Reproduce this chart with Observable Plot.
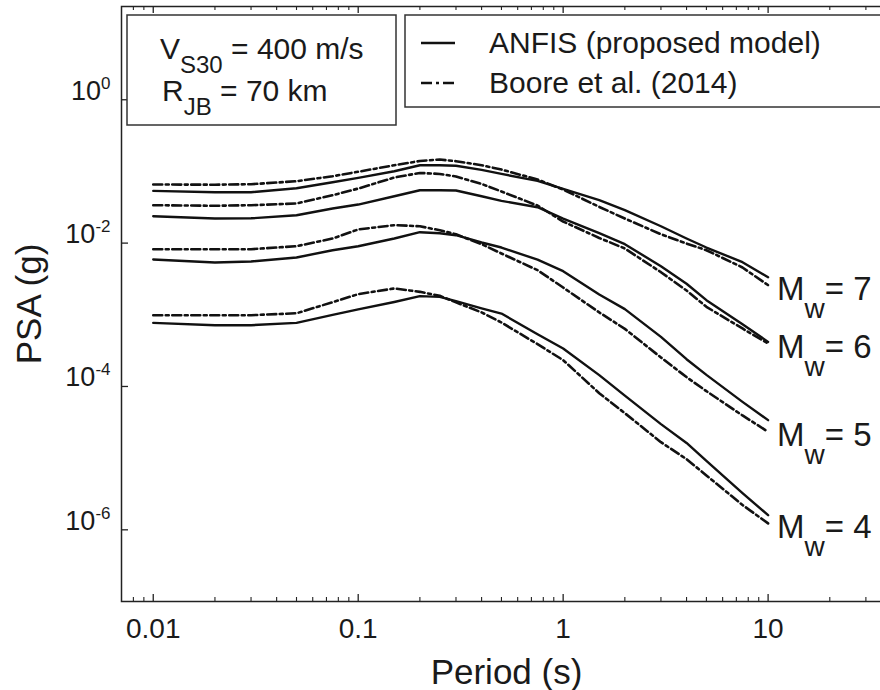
<!DOCTYPE html>
<html><head><meta charset="utf-8">
<script src="https://cdn.jsdelivr.net/npm/d3@7"></script>
<script src="https://cdn.jsdelivr.net/npm/@observablehq/plot@0.6"></script>
<style>
body{margin:0;background:#fff;overflow:hidden}
#wrap{width:880px;height:690px}
</style></head><body><div id="wrap"></div>
<script>
// ---- data ----
const periods = [0.01,0.02,0.03,0.05,0.075,0.1,0.15,0.2,0.25,0.3,0.4,0.5,0.75,1,1.5,2,3,4,5,7.5,10];
const magnitudes = [4,5,6,7];
const anfisM7 = [0.0535,0.0513,0.0513,0.0583,0.0707,0.0814,0.1006,0.122,0.122,0.120,0.105,0.0923,0.0737,0.0570,0.0397,0.0288,0.0172,0.0116,0.00868,0.00542,0.00334];
const booreM7 = [0.0657,0.0653,0.0663,0.0730,0.0857,0.0990,0.122,0.140,0.1466,0.1388,0.122,0.1063,0.0771,0.0559,0.0320,0.0220,0.0133,0.00987,0.00796,0.00457,0.00259];
const anfisM6 = [0.0237,0.0220,0.0222,0.0245,0.0304,0.0345,0.0451,0.0547,0.0547,0.0542,0.0451,0.0388,0.0317,0.0220,0.01374,0.00965,0.00476,0.00271,0.00160,0.000740,0.000419];
const booreM6 = [0.0338,0.0332,0.0338,0.0357,0.0466,0.0577,0.0822,0.0953,0.0923,0.0849,0.0669,0.0525,0.0334,0.0200,0.0118,0.00841,0.00393,0.00218,0.00129,0.000644,0.000398];
const anfisM5 = [0.00591,0.00536,0.00554,0.00630,0.00796,0.00905,0.0116,0.0142,0.01374,0.0129,0.0102,0.00868,0.00587,0.00406,0.00192,0.00120,0.000492,0.000240,0.000145,0.0000610,0.0000339];
const booreM5 = [0.00822,0.00822,0.00822,0.00905,0.0116,0.0155,0.0178,0.0172,0.0151,0.0133,0.00965,0.00716,0.00419,0.00240,0.00108,0.000636,0.000254,0.000135,0.0000860,0.0000394,0.0000233];
const anfisM4 = [0.000771,0.000716,0.000716,0.000771,0.000997,0.00119,0.00151,0.00182,0.00178,0.00155,0.00123,0.00104,0.000536,0.000339,0.000144,0.0000744,0.0000298,0.0000163,0.00000917,0.00000325,0.00000160];
const booreM4 = [0.000987,0.000987,0.000987,0.00105,0.00150,0.00194,0.00233,0.00209,0.00184,0.00149,0.00108,0.000781,0.000389,0.000233,0.0000806,0.0000424,0.0000167,0.00000969,0.00000574,0.00000222,0.00000123];

const xMajor = [0.01,0.1,1,10];
const xTickLabels = ["0.01","0.1","1","10"];
const xMinor = [0.008,0.009,0.02,0.03,0.04,0.05,0.06,0.07,0.08,0.09,0.2,0.3,0.4,0.5,0.6,0.7,0.8,0.9,2,3,4,5,6,7,8,9,20,30];
const yMajor = [1,1e-2,1e-4,1e-6];
const yTickExp = ["0","-2","-4","-6"];
const seriesNames = ["ANFIS (proposed model)","Boore et al. (2014)"];

// ---- table ----
const anfis = [anfisM4,anfisM5,anfisM6,anfisM7];
const boore = [booreM4,booreM5,booreM6,booreM7];
const rows = [];
magnitudes.forEach((m,i)=>periods.forEach((T,j)=>{
  rows.push({T, mw:m, model:"ANFIS", psa:anfis[i][j]});
  rows.push({T, mw:m, model:"Boore", psa:boore[i][j]});
}));
const labelRows = magnitudes.map((m,i)=>({T:periods[periods.length-1], psa:boore[i][periods.length-1], mw:m}));

const FONT = '"Liberation Sans", Arial, Helvetica, sans-serif';
const INK = "#1a1a1a";
const DASH = "9,3.5,3,3.5";

const chart = Plot.plot({
  width: 880, height: 690,
  marginLeft: 121, marginRight: -11, marginTop: 6, marginBottom: 89,
  style: {fontFamily: FONT, background: "#fff", color: INK},
  x: {type: "log", domain: [0.007, 40], axis: null},
  y: {type: "log", domain: [1e-7, 20], axis: null},
  marks: [
    Plot.frame({stroke: "#222", strokeWidth: 1.5}),
    Plot.tickX(xMajor, {x: d=>d, insetTop: 588, stroke: "#222", strokeWidth: 1.3}),
    Plot.tickX(xMinor, {x: d=>d, insetTop: 591, stroke: "#222", strokeWidth: 1.1}),
    Plot.tickX(xMajor, {x: d=>d, insetBottom: 588, stroke: "#222", strokeWidth: 1.3}),
    Plot.tickX(xMinor, {x: d=>d, insetBottom: 591, stroke: "#222", strokeWidth: 1.1}),
    Plot.tickY(yMajor, {y: d=>d, insetRight: 763, stroke: "#222", strokeWidth: 1.3}),
    Plot.line(rows.filter(d=>d.model==="Boore"), {x:"T", y:"psa", z:"mw", stroke:"#111", strokeWidth:2.6, strokeDasharray: DASH}),
    Plot.line(rows.filter(d=>d.model==="ANFIS"), {x:"T", y:"psa", z:"mw", stroke:"#111", strokeWidth:2.4}),
    Plot.text(xMajor, {x: d=>d, frameAnchor: "bottom", dy: 17, lineAnchor: "top", fontSize: 28, text: (d,i)=>xTickLabels[i]}),
    Plot.text(yMajor, {y: d=>d, frameAnchor: "left", dx: -11, textAnchor: "end", lineAnchor: "bottom", fontSize: 27,
      text: (d,i)=>"10^" + yTickExp[i]}),
    Plot.text(["Period (s)"], {frameAnchor: "bottom", dy: 82, lineAnchor: "bottom", fontSize: 35}),
    Plot.text(["PSA (g)"], {frameAnchor: "left", textAnchor: "middle", rotate: -90, dx: -81, lineAnchor: "bottom", fontSize: 35}),
    Plot.text(labelRows, {x: "T", y: "psa", dx: 9, dy: 4, textAnchor: "start", lineAnchor: "middle", fontSize: 33,
      text: d => "Mw= " + d.mw})
  ]
});
document.getElementById("wrap").appendChild(chart);

const svg = d3.select(chart);
svg.selectAll("text").each(function(){
  const t = d3.select(this);
  const s = this.textContent;
  if (s.startsWith("10^")) {
    const e = s.slice(3);
    t.text(null);
    t.append("tspan").text("10");
    t.append("tspan").attr("dy", -11).attr("font-size", 17).text(e);
  } else if (s.startsWith("Mw= ")) {
    const m = s.slice(4);
    t.text(null);
    t.append("tspan").text("M");
    t.append("tspan").attr("dy", 18).attr("font-size", 28).text("w");
    t.append("tspan").attr("dy", -18).text("= " + m);
  }
});

// ---- legend / annotation boxes ----
const g = svg.append("g").attr("font-family", FONT).attr("fill", INK).attr("text-anchor", "start");
g.append("rect").attr("x",127).attr("y",15).attr("width",269).attr("height",110)
  .attr("fill","#fff").attr("stroke","#333").attr("stroke-width",1.5);
const t1 = g.append("text").attr("x",160).attr("y",59).attr("font-size",30);
t1.append("tspan").text("V");
t1.append("tspan").attr("dy",14).attr("font-size",24).text("S30");
t1.append("tspan").attr("dy",-14).text(" = 400 m/s");
const t2 = g.append("text").attr("x",162).attr("y",101).attr("font-size",30);
t2.append("tspan").text("R");
t2.append("tspan").attr("dy",14).attr("font-size",24).text("JB");
t2.append("tspan").attr("dy",-14).text(" = 70 km");

g.append("rect").attr("x",405).attr("y",15).attr("width",500).attr("height",92)
  .attr("fill","#fff").attr("stroke","#333").attr("stroke-width",1.5);
g.append("line").attr("x1",421).attr("x2",455).attr("y1",43).attr("y2",43)
  .attr("stroke","#111").attr("stroke-width",2.4);
g.append("line").attr("x1",421).attr("x2",455).attr("y1",83).attr("y2",83)
  .attr("stroke","#111").attr("stroke-width",2.6).attr("stroke-dasharray","11,4,3,4");
g.append("text").attr("x",489).attr("y",53).attr("font-size",30).text(seriesNames[0]);
g.append("text").attr("x",489).attr("y",93).attr("font-size",30).text(seriesNames[1]);
</script>
</body></html>
